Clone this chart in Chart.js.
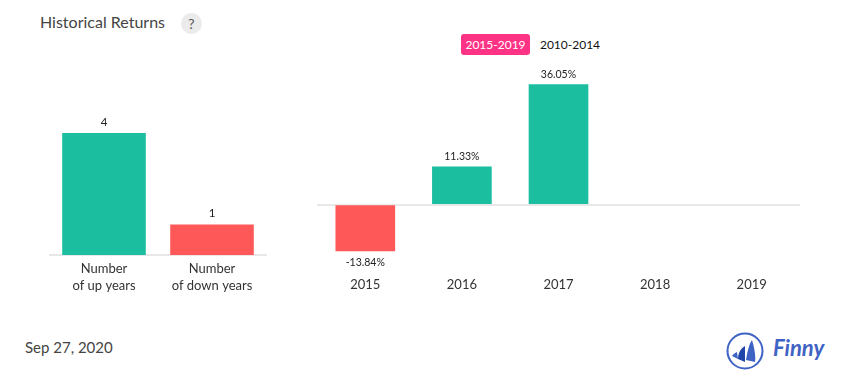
<!DOCTYPE html>
<html>
<head>
<meta charset="utf-8">
<title>Historical Returns</title>
<script src="https://cdn.jsdelivr.net/npm/chart.js@4"></script>
<style>
    html, body { margin: 0; padding: 0; background: #fff; width: 855px; height: 382px; overflow: hidden; font-family: Lato, sans-serif; }
    canvas { position: absolute; }
    .title { position: absolute; left: 40px; top: 12px; font-size: 16px; line-height: 20px; color: #444; }
    .help { position: absolute; left: 181px; top: 13px; width: 21px; height: 21px; border-radius: 50%; background: #ebebeb; color: #555; font-size: 14px; line-height: 21px; text-align: center; }
    .tab { position: absolute; top: 34px; height: 21px; line-height: 21px; font-size: 12px; text-align: center; }
    .tab.active { left: 461px; width: 69px; background: #ff3385; color: #fff; border-radius: 3px; }
    .tab.other { left: 536px; width: 68px; color: #111; }
    .date { position: absolute; left: 25px; top: 337px; font-size: 15px; line-height: 20px; color: #444; }
    .logo { position: absolute; left: 725px; top: 331px; }
</style>
</head>
<body>
<div class="title">Historical Returns</div>
<div class="help">?</div>
<div class="tab active">2015-2019</div>
<div class="tab other">2010-2014</div>
<canvas id="count-chart" style="left:40px;top:100px"></canvas>
<canvas id="returns-chart" style="left:300px;top:61px"></canvas>
<div class="date">Sep 27, 2020</div>
<svg class="logo" width="105" height="40" viewBox="0 0 105 40">
    <circle cx="20" cy="20" r="17.5" fill="none" stroke="#3f63c4" stroke-width="2"/>
    <path d="M7 25 C8 23 10 22 12 21 L13 28 Z" fill="#3f63c4"/>
    <path d="M13 28 C13 22 16 17 20 15 L20 31 Z" fill="#1f45a8"/>
    <path d="M21 29 C22 22 24 13 27 9 C29 15 31 25 30 31 Z" fill="#3f63c4"/>
    <text x="48" y="25" font-family="Lato" font-style="italic" font-weight="700" font-size="22" fill="#3f63c4">Finny</text>
</svg>

<script>
const countCategories = [['Number', 'of up years'], ['Number', 'of down years']];
const countValues = [4, 1];

const returnYears = ['2015', '2016', '2017', '2018', '2019'];
const returnValues = [-13.84, 11.33, 36.05, null, null];

const GREEN = '#1bbe9e';
const RED = '#ff5858';
const AXIS_COLOR = '#e8e8e8';

// writes the value above a bar, or below it when negative
const barValueLabels = {
    id: 'barValueLabels',
    afterDatasetsDraw(chart, args, opts) {
        const ctx = chart.ctx;
        const values = chart.data.datasets[0].data;
        ctx.save();
        ctx.font = opts.font;
        ctx.fillStyle = '#222';
        ctx.textAlign = 'center';
        chart.getDatasetMeta(0).data.forEach((bar, i) => {
            if (values[i] === null) return;
            const below = values[i] < 0;
            ctx.textBaseline = below ? 'top' : 'bottom';
            ctx.fillText(opts.format(values[i]), bar.x, bar.y + (below ? 7 : -5));
        });
        ctx.restore();
    }
};

function createChart(canvasId, width, height, labels, values, colors, barOptions, padding, valueFont, format, yRange, axisHeight, tickPadding, showBorder, showZeroLine) {
    const canvas = document.getElementById(canvasId);
    canvas.width = width;
    canvas.height = height;
    new Chart(canvas, {
        type: 'bar',
        data: {
            labels: labels,
            datasets: [{ data: values, backgroundColor: colors, ...barOptions }]
        },
        plugins: [barValueLabels],
        options: {
            responsive: false,
            animation: false,
            layout: { padding: padding },
            plugins: {
                legend: { display: false },
                tooltip: { enabled: false },
                barValueLabels: { font: valueFont, format: format }
            },
            scales: {
                x: {
                    afterFit: (scale) => { scale.height = axisHeight; },
                    grid: { display: false, drawTicks: false },
                    border: { display: showBorder, color: AXIS_COLOR, width: 2 },
                    ticks: {
                        color: '#333',
                        padding: tickPadding,
                        maxRotation: 0,
                        font: { family: 'Lato', size: 13, lineHeight: 1.3 }
                    }
                },
                y: {
                    display: showZeroLine,
                    min: yRange[0],
                    max: yRange[1],
                    afterFit: (scale) => { scale.width = 0; },
                    afterBuildTicks: (scale) => { scale.ticks = [{ value: 0 }]; },
                    border: { display: false },
                    grid: { color: AXIS_COLOR, lineWidth: 2, drawTicks: false },
                    ticks: { display: false }
                }
            }
        }
    });
}

createChart('count-chart', 237, 200, countCategories, countValues, [GREEN, RED],
    { categoryPercentage: 1, barPercentage: 0.774 },
    { left: 10, right: 11, top: 33, bottom: 0 },
    '11.5px Lato', (v) => String(v), [0, 4], 45, 5, true, false);

createChart('returns-chart', 500, 240, returnYears, returnValues,
    returnValues.map((v) => (v < 0 ? RED : GREEN)),
    { barThickness: 59 },
    { left: 17, right: 0, top: 17, bottom: 0 },
    '10.5px Lato', (v) => v.toFixed(2) + '%', [-16, 38], 43, 18, false, true);
</script>
</body>
</html>
